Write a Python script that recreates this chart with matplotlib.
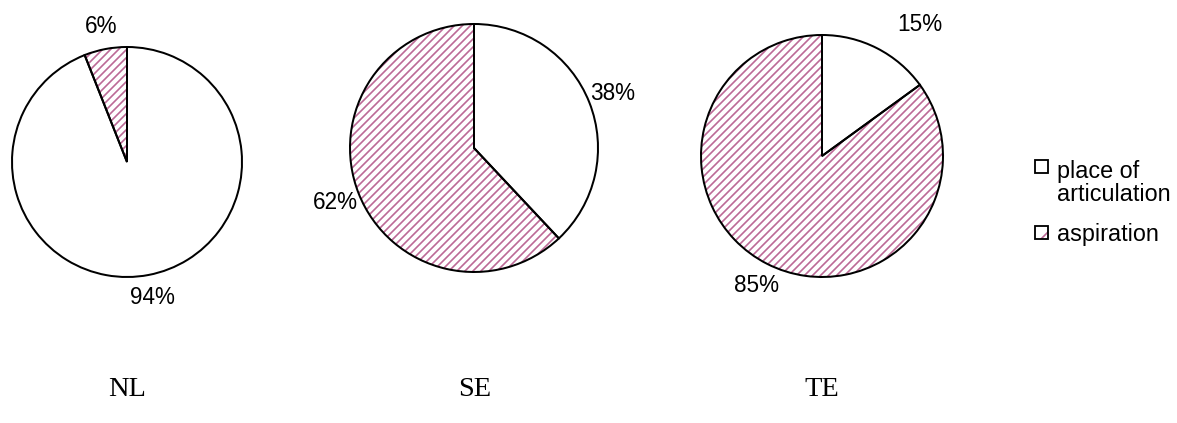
import matplotlib.pyplot as plt
from matplotlib.patches import Rectangle

plt.rcParams['font.family'] = ['Liberation Sans', 'DejaVu Sans']
plt.rcParams['hatch.linewidth'] = 1.0

# datos
grupos = ['NL', 'SE', 'TE']
categorias = ['place of\narticulation', 'aspiration']
place = [94, 38, 15]
aspiration = [6, 62, 85]

# posicion (px) y radio de cada torta
centros = [(127, 162), (474, 148), (822, 156)]
radios = [115, 124, 121]
pos_nombre_x = [127, 475, 822]
# desplazamiento extra (px) de cada porcentaje: [place, aspiration]
ajuste_pct = [[(0, 0), (0, 0)], [(0, 0), (0, 0)], [(32, 2), (0, 0)]]

W, H = 1177, 423
dpi = 120
fig = plt.figure(figsize=(W / dpi, H / dpi), dpi=dpi)
ax = fig.add_axes([0, 0, 1, 1])
ax.axis('off')

color_rayas = '#bc6a96'
rayas = '/////'

for i, g in enumerate(grupos):
    cx, cy = centros[i]
    r = radios[i]
    vals = [place[i], aspiration[i]]
    # relleno con rayas (sin borde)
    w1, _ = ax.pie(vals, startangle=90, counterclock=False,
                   center=(cx, H - cy), radius=r,
                   colors=['white', 'white'],
                   wedgeprops=dict(linewidth=0, edgecolor=color_rayas))
    w1[1].set_hatch(rayas)
    # contorno negro encima, con los porcentajes
    _, _, pcts = ax.pie(vals, startangle=90, counterclock=False,
                        center=(cx, H - cy), radius=r,
                        colors=['none', 'none'],
                        autopct='%d%%', pctdistance=1.2,
                        wedgeprops=dict(linewidth=1.2, edgecolor='black'),
                        textprops=dict(fontsize=13.5))
    for t, (dx, dy) in zip(pcts, ajuste_pct[i]):
        x, y = t.get_position()
        t.set_position((x + dx, y + dy))
    ax.text(pos_nombre_x[i], H - 390, g, ha='center', va='center',
            fontsize=17, family='Liberation Serif')

ax.set_xlim(0, W)
ax.set_ylim(0, H)
ax.set_aspect('equal')

# leyenda
lx = 1035
ley_y = [166, 232]
txt_y = [183, 235]
for j, cat in enumerate(categorias):
    y = H - ley_y[j]
    if j == 0:
        ax.add_patch(Rectangle((lx, y - 6.5), 13, 13, facecolor='white',
                               edgecolor='black', linewidth=1.1))
    else:
        ax.add_patch(Rectangle((lx, y - 6.5), 13, 13, facecolor='white',
                               edgecolor=color_rayas, hatch='//', linewidth=0))
        ax.add_patch(Rectangle((lx, y - 6.5), 13, 13, facecolor='none',
                               edgecolor='black', linewidth=1.1))
    ax.text(lx + 22, H - txt_y[j], cat, ha='left', va='center',
            fontsize=14, linespacing=1.05)

fig.savefig('out.png', dpi=dpi)
